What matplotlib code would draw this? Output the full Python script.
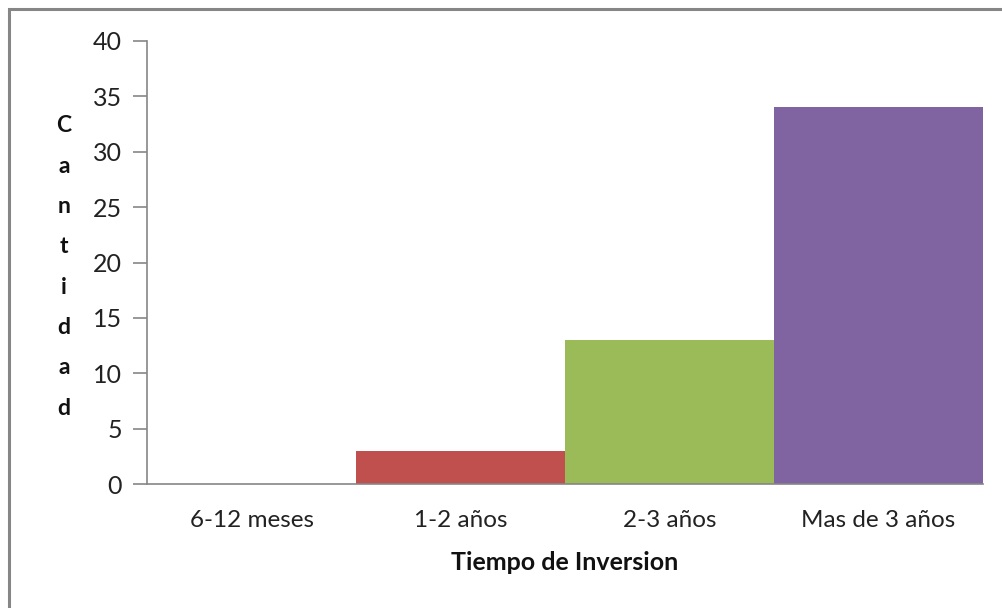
import matplotlib
matplotlib.use("Agg")
import matplotlib.pyplot as plt
from matplotlib.patches import Rectangle

categories = ["6-12 meses", "1-2 años", "2-3 años", "Mas de 3 años"]
counts = [0, 3, 13, 34]
bar_colors = ["#4F81BD", "#C0504D", "#9BBB59", "#8064A2"]
y_ticks = [0, 5, 10, 15, 20, 25, 30, 35, 40]
y_label = "Cantidad"
x_label = "Tiempo de Inversion"

plt.rcParams["font.family"] = ["Lato", "DejaVu Sans"]

W, H = 1002, 608
fig = plt.figure(figsize=(W / 100, H / 100), dpi=100)

# outer chart frame
fig.patches.append(Rectangle((9 / W, -0.1), 1.2, (H - 9) / H + 0.1,
                             transform=fig.transFigure, fill=False,
                             edgecolor="#868686", linewidth=2.2))

left, right, top, bottom = 147, 983, 41, 484
ax = fig.add_axes([left / W, 1 - bottom / H, (right - left) / W, (bottom - top) / H])

x = range(len(categories))
ax.bar(x, counts, width=1.0, color=bar_colors, edgecolor="none")

ax.set_xlim(-0.5, len(categories) - 0.5)
ax.set_ylim(0, 40)
ax.set_yticks(y_ticks)
ax.set_xticks(list(x))
ax.set_xticklabels(categories)

axis_color = "#868686"
for side in ("top", "right"):
    ax.spines[side].set_visible(False)
for side in ("left", "bottom"):
    ax.spines[side].set_color(axis_color)
    ax.spines[side].set_linewidth(1.2)

ax.tick_params(axis="y", length=10, width=1.2, color=axis_color,
               labelsize=18, labelcolor="#222222", pad=8)
ax.tick_params(axis="x", length=0, labelsize=17.5, labelcolor="#222222", pad=19)

# stacked vertical axis title, one letter per line
letter_top, letter_step = 126, 40.3
for i, ch in enumerate(y_label):
    fig.text(64 / W, 1 - (letter_top + i * letter_step) / H, ch,
             ha="center", va="center", fontsize=16.5, fontweight="bold",
             color="#111111")

fig.text(565 / W, 1 - 563 / H, x_label, ha="center", va="center",
         fontsize=18, fontweight="bold", color="#111111")

fig.savefig("out.png", dpi=100, facecolor="white")
